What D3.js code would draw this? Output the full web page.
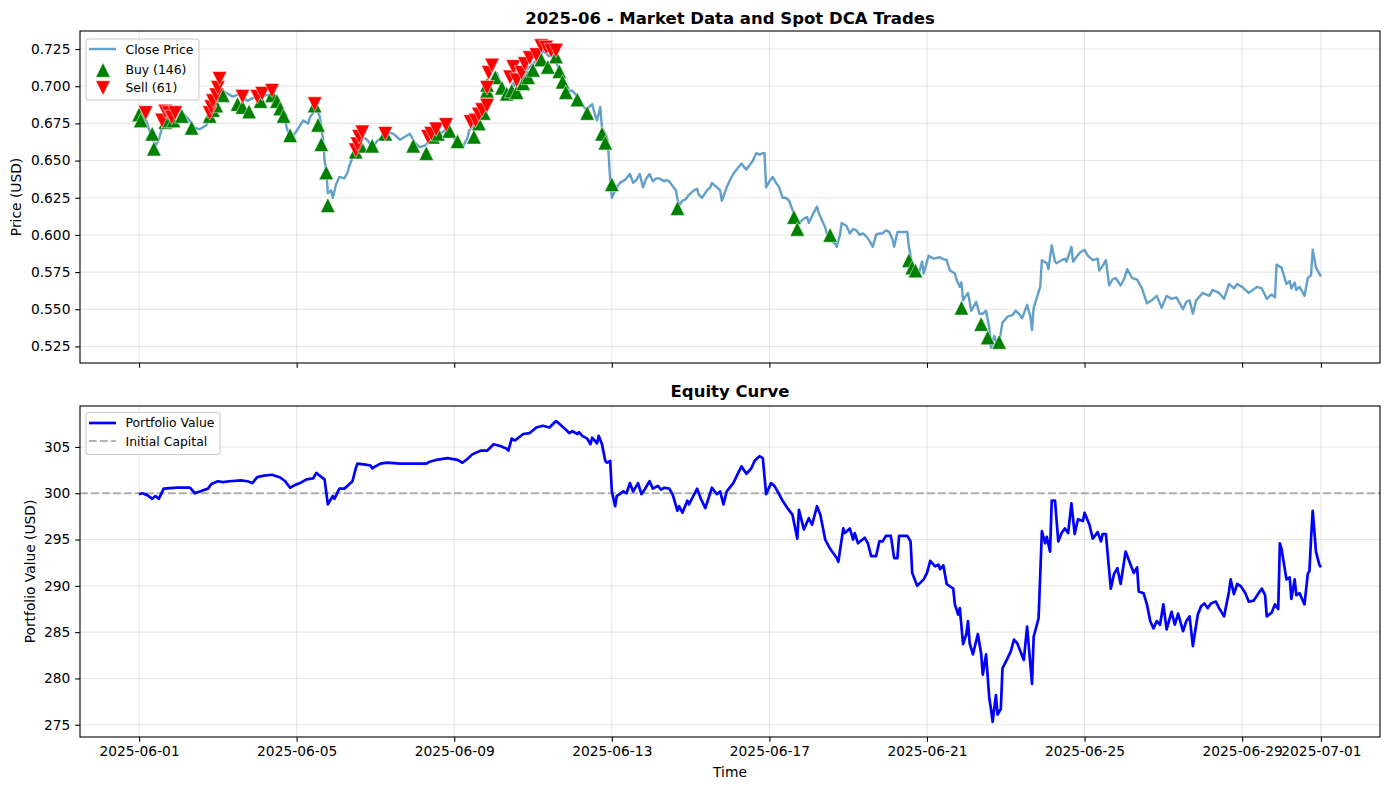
<!DOCTYPE html>
<html><head><meta charset="utf-8">
<script src="https://cdn.jsdelivr.net/npm/d3@7"></script>
<style>body{margin:0;background:#fff} svg{display:block} text{font-family:"DejaVu Sans",sans-serif;fill:#000}</style>
</head><body><svg id="c" width="1389" height="790"></svg>
<script>
// ---------- DATA ----------
const startDate = "2025-06-01T00:00:00";
const endDate = "2025-07-01T00:00:00";
const xTickLabels = ["2025-06-01","2025-06-05","2025-06-09","2025-06-13","2025-06-17","2025-06-21","2025-06-25","2025-06-29","2025-07-01"];
const priceTicks = [0.525,0.550,0.575,0.600,0.625,0.650,0.675,0.700,0.725];
const equityTicks = [275,280,285,290,295,300,305];
const initialCapital = 300;
const topTitle = "2025-06 - Market Data and Spot DCA Trades";
const bottomTitle = "Equity Curve";
const legendTop = ["Close Price","Buy (146)","Sell (61)"];
const legendBottom = ["Portfolio Value","Initial Capital"];

// [hours since start, close price]
const closePrice = [[0,.682],[4,.678],[7,.668],[10,.660],[12,.664],[15,.676],[19,.679],[25,.684],[30,.678],[34,.672],[37,.671],[41,.674],[44,.683],[48,.698],[51,.697],[54,.695],[57,.693],[62,.695],[66,.690],[69,.692],[74,.693],[78,.694],[82,.695],[85,.690],[88,.682],[90,.672],[92,.666],[94,.667],[96,.670],[100,.677],[103,.675],[104,.679],[106,.682],[108,.685],[110,.680],[112,.665],[113,.650],[114,.644],[115,.628],[117,.630],[118,.625],[120,.634],[122,.639],[125,.638],[127,.642],[128,.646],[130,.652],[133,.662],[136,.666],[139,.664],[142,.659],[145,.663],[148,.666],[152,.669],[155,.668],[159,.664],[162,.666],[165,.668],[168,.662],[171,.659],[174,.660],[177,.663],[180,.666],[183,.668],[186,.670],[189,.668],[192,.665],[195,.662],[197,.659],[200,.665],[201,.670],[204,.674],[208,.680],[210,.686],[212,.697],[214,.702],[216,.706],[218,.709],[220,.702],[222,.700],[224,.693],[226,.697],[228,.702],[230,.699],[232,.697],[234,.703],[236,.711],[240,.715],[244,.720],[246,.724],[248,.722],[250,.720],[252,.722],[254,.716],[256,.711],[258,.706],[260,.700],[262,.697],[264,.697],[267,.693],[268,.691],[271,.686],[273,.684],[274,.686],[276,.688],[278,.680],[279,.677],[281,.686],[282,.672],[285,.666],[286,.655],[287,.637],[288,.625],[291,.632],[293,.635],[296,.637],[299,.641],[301,.635],[303,.637],[305,.641],[307,.632],[309,.638],[311,.641],[313,.636],[315,.638],[317,.638],[320,.636],[321,.637],[323,.636],[325,.633],[327,.630],[328,.624],[329,.620],[331,.623],[333,.624],[335,.627],[338,.630],[340,.631],[341,.627],[343,.625],[346,.630],[348,.632],[349,.635],[352,.632],[354,.630],[355,.623],[358,.632],[360,.637],[362,.641],[364,.644],[367,.648],[369,.645],[370,.644],[372,.647],[374,.650],[376,.655],[378,.654],[380,.655],[381,.655],[382,.632],[384,.636],[386,.639],[388,.635],[390,.632],[392,.625],[394,.625],[396,.623],[398,.617],[400,.612],[402,.608],[405,.611],[407,.612],[408,.608],[411,.615],[413,.619],[414,.615],[416,.610],[418,.605],[419,.601],[421,.598],[422,.596],[424,.594],[425,.592],[427,.600],[428,.608],[431,.606],[433,.601],[435,.604],[437,.603],[439,.600],[441,.601],[443,.599],[445,.596],[447,.592],[449,.600],[451,.601],[453,.601],[455,.603],[457,.602],[459,.597],[460,.592],[462,.602],[465,.602],[468,.602],[469,.592],[471,.580],[473,.578],[475,.574],[477,.582],[478,.574],[481,.586],[484,.584],[488,.585],[489,.584],[492,.583],[494,.576],[497,.574],[498,.570],[500,.565],[501,.568],[502,.556],[503,.558],[505,.561],[507,.549],[510,.555],[512,.547],[514,.547],[516,.549],[518,.537],[519,.524],[521,.532],[523,.526],[524,.528],[526,.541],[529,.545],[532,.546],[534,.549],[536,.547],[538,.544],[541,.553],[543,.545],[544,.536],[545,.551],[547,.558],[549,.565],[550,.583],[553,.581],[554,.577],[556,.593],[558,.582],[559,.581],[562,.583],[564,.584],[565,.582],[568,.592],[569,.582],[571,.585],[573,.588],[576,.590],[578,.586],[581,.583],[584,.584],[585,.576],[587,.579],[589,.583],[591,.566],[593,.570],[595,.571],[598,.566],[600,.570],[602,.577],[605,.571],[608,.570],[611,.564],[614,.554],[617,.556],[620,.559],[623,.551],[626,.559],[629,.557],[632,.558],[636,.550],[638,.555],[640,.556],[642,.547],[644,.556],[648,.561],[652,.559],[654,.563],[658,.561],[661,.557],[664,.567],[667,.564],[669,.567],[672,.565],[676,.561],[681,.565],[684,.564],[687,.557],[690,.560],[692,.558],[693,.580],[696,.578],[699,.567],[701,.569],[702,.564],[704,.568],[705,.563],[707,.565],[710,.559],[712,.571],[714,.573],[715,.590],[717,.578],[720,.572]];

// [hours since start, portfolio value]
const portfolioValue = [[0,299.9],[2,300.0],[5,299.8],[8,299.4],[10,299.7],[12,299.4],[15,300.5],[23,300.6],[31,300.6],[34,300.0],[37,300.2],[42,300.5],[44,301.0],[48,301.3],[51,301.2],[55,301.3],[62,301.4],[66,301.3],[69,301.1],[72,301.75],[76,301.9],[81,302.0],[86,301.7],[89,301.3],[92,300.6],[94,300.8],[98,301.1],[102,301.5],[106,301.6],[108,302.2],[110,301.9],[113,301.5],[115,298.8],[118,299.7],[119,299.4],[122,300.5],[125,300.5],[127,300.8],[130,301.3],[132,302.7],[133,303.2],[138,303.1],[141,303.0],[142,302.7],[147,303.2],[151,303.3],[159,303.2],[167,303.2],[175,303.2],[177,303.4],[181,303.6],[188,303.8],[194,303.6],[197,303.3],[200,303.7],[203,304.2],[208,304.6],[212,304.6],[216,305.3],[220,305.1],[224,304.8],[225,304.6],[227,305.9],[229,305.7],[234,306.4],[238,306.5],[242,307.1],[246,307.3],[250,307.1],[254,307.8],[256,307.5],[261,306.7],[262,306.5],[264,306.7],[267,306.4],[268,306.6],[270,306.2],[273,305.9],[275,305.3],[276,306.0],[279,305.4],[280,306.2],[282,305.3],[284,303.5],[285,303.3],[287,303.5],[288,300.2],[290,298.6],[291,299.7],[295,300.2],[297,300.0],[299,301.1],[301,300.2],[304,301.1],[306,299.9],[308,300.4],[311,301.3],[313,300.5],[316,300.8],[318,300.4],[320,300.6],[323,300.5],[325,299.9],[328,298.1],[329,298.6],[331,297.9],[334,299.2],[335,298.8],[340,300.5],[342,299.5],[345,298.4],[349,300.6],[352,299.9],[354,300.2],[356,298.8],[358,300.2],[362,301.1],[365,302.2],[367,302.9],[370,302.1],[373,302.7],[375,303.5],[378,304.0],[380,303.8],[382,299.9],[385,301.1],[387,300.8],[389,300.2],[392,299.2],[395,298.4],[398,297.7],[401,295.1],[402,298.2],[405,296.1],[408,297.3],[410,296.6],[413,298.6],[415,297.7],[418,295.0],[421,294.0],[425,293.0],[426,292.6],[429,296.2],[430,295.7],[433,296.2],[435,295.0],[436,295.7],[438,294.6],[442,295.2],[444,294.6],[446,293.2],[449,293.2],[451,294.8],[453,294.8],[455,295.4],[458,295.4],[460,293.0],[462,293.0],[463,295.4],[468,295.4],[470,294.8],[471,291.4],[474,290.0],[478,290.7],[480,291.4],[482,292.7],[485,292.1],[487,292.3],[488,291.8],[490,292.2],[492,290.2],[496,289.7],[497,288.0],[499,286.9],[500,287.6],[502,283.7],[504,284.8],[505,286.2],[506,283.8],[508,282.6],[511,284.8],[513,282.7],[514,280.4],[516,282.6],[518,277.8],[519,276.7],[520,275.3],[522,278.2],[523,276.1],[525,276.7],[526,281.1],[528,281.8],[531,282.9],[533,284.2],[535,283.8],[539,282.0],[541,285.6],[544,279.4],[545,284.5],[548,286.5],[550,295.9],[552,294.6],[553,295.3],[555,293.7],[556,299.2],[558,299.2],[560,294.8],[562,295.7],[564,296.2],[566,295.7],[568,298.9],[570,295.6],[572,297.2],[575,297.0],[576,297.9],[579,296.6],[581,295.1],[584,295.8],[586,294.8],[587,295.6],[589,295.6],[592,289.7],[594,291.3],[596,291.9],[598,290.2],[601,293.7],[604,292.3],[606,291.4],[608,292.0],[609,289.4],[612,289.2],[614,288.0],[616,286.2],[618,285.4],[620,286.2],[622,285.8],[624,288.0],[626,285.3],[629,287.2],[631,285.8],[633,287.0],[636,285.1],[638,286.2],[640,286.7],[642,283.5],[645,286.9],[647,287.8],[649,288.1],[651,287.6],[653,288.1],[656,288.3],[658,287.6],[661,286.7],[664,289.4],[665,290.7],[667,289.1],[669,290.2],[671,290.0],[674,289.2],[676,288.3],[679,288.4],[682,289.2],[684,289.7],[686,289.0],[687,286.7],[690,287.1],[692,288.0],[694,287.5],[695,294.6],[696,294.0],[699,290.7],[701,290.9],[702,288.6],[704,290.7],[705,289.0],[707,289.2],[710,288.0],[712,291.3],[713,291.6],[714,295.1],[715,298.1],[717,293.7],[719,292.3],[720,292.0]];

// [hours since start, trade price]
const buyTrades = [[0,.681],[1,.677],[8,.668],[9,.658],[16,.676],[18,.677],[21,.677],[26,.680],[32,.672],[43,.680],[45,.684],[47,.687],[51,.694],[60,.688],[63,.686],[67,.683],[74,.690],[81,.694],[84,.690],[86,.685],[88,.680],[92,.667],[107,.687],[109,.674],[111,.661],[114,.642],[115,.620],[132,.656],[135,.660],[142,.660],[150,.668],[167,.660],[175,.655],[179,.666],[182,.668],[189,.670],[194,.663],[204,.666],[207,.675],[210,.682],[212,.697],[212,.701],[217,.706],[221,.699],[224,.695],[227,.697],[230,.696],[234,.702],[237,.706],[240,.711],[245,.718],[249,.713],[254,.720],[256,.710],[258,.703],[260,.696],[267,.691],[273,.682],[282,.668],[284,.662],[288,.634],[328,.618],[399,.612],[401,.604],[421,.600],[469,.583],[471,.578],[473,.576],[501,.551],[513,.540],[517,.531],[524,.528]];
const sellTrades = [[4,.682],[14,.677],[16,.683],[18,.682],[20,.679],[22,.682],[43,.682],[44,.686],[45,.690],[47,.694],[48,.699],[49,.705],[63,.693],[72,.693],[75,.695],[81,.697],[107,.688],[132,.657],[133,.661],[134,.666],[136,.669],[150,.668],[176,.666],[178,.668],[181,.671],[187,.674],[202,.676],[205,.677],[207,.681],[209,.684],[212,.687],[212,.699],[213,.709],[215,.714],[226,.706],[228,.713],[230,.704],[233,.709],[235,.715],[238,.719],[242,.721],[245,.727],[248,.726],[251,.724],[254,.724]];

// ---------- RENDER ----------
const svg = d3.select("#c");
const L = 80, R = 1380;
const top1 = {t:31, b:363}, top2 = {t:406, b:737};
const t0 = new Date(startDate), t1 = new Date(endDate);
const toDate = h => d3.timeHour.offset(t0, h);
const span = t1 - t0;
const x = d3.scaleTime().domain([new Date(+t0 - span*0.05), new Date(+t1 + span*0.05)]).range([L, R]);

function padExtent(vals){const e=d3.extent(vals);const p=(e[1]-e[0])*0.05;return [e[0]-p,e[1]+p];}
const yP = d3.scaleLinear().domain(padExtent([...closePrice,...buyTrades,...sellTrades].map(d=>d[1]))).range([top1.b, top1.t]);
const yE = d3.scaleLinear().domain(padExtent(portfolioValue.map(d=>d[1]))).range([top2.b, top2.t]);
const xTicks = xTickLabels.map(s => new Date(s + "T00:00:00"));

const FS = 13.8, LFS = 12.4;
function grid(g, y, ticks, box){
  g.append("g").selectAll("line").data(xTicks).join("line")
    .attr("x1", d=>x(d)).attr("x2", d=>x(d)).attr("y1", box.t).attr("y2", box.b)
    .attr("stroke","#b0b0b0").attr("stroke-opacity",0.3).attr("stroke-width",1.1);
  g.append("g").selectAll("line").data(ticks).join("line")
    .attr("x1", L).attr("x2", R).attr("y1", d=>y(d)).attr("y2", d=>y(d))
    .attr("stroke","#b0b0b0").attr("stroke-opacity",0.3).attr("stroke-width",1.1);
}
function frame(g, y, ticks, box, fmt, showX){
  const ax = d3.axisLeft(y).tickValues(ticks).tickFormat(fmt).tickSize(4.8).tickPadding(4.8);
  const ga = g.append("g").attr("transform",`translate(${L},0)`).call(ax);
  ga.select(".domain").remove();
  ga.selectAll("line").attr("stroke","#000").attr("stroke-width",1.1);
  ga.selectAll("text").attr("font-size",FS).attr("font-family","DejaVu Sans").attr("fill","#000");
  const bx = d3.axisBottom(x).tickValues(xTicks).tickFormat(showX ? d3.timeFormat("%Y-%m-%d") : "").tickSize(4.8).tickPadding(4.8);
  const gb = g.append("g").attr("transform",`translate(0,${box.b})`).call(bx);
  gb.select(".domain").remove();
  gb.selectAll("line").attr("stroke","#000").attr("stroke-width",1.1);
  gb.selectAll("text").attr("font-size",FS).attr("font-family","DejaVu Sans").attr("fill","#000");
  g.append("rect").attr("x",L).attr("y",box.t).attr("width",R-L).attr("height",box.b-box.t)
    .attr("fill","none").attr("stroke","#000").attr("stroke-width",1.1);
}
const triUp = s => `M0,${-s/2}L${s/2},${s/2}L${-s/2},${s/2}Z`;
const triDown = s => `M0,${s/2}L${s/2},${-s/2}L${-s/2},${-s/2}Z`;
const MS = 14.5;
const priceColor = "rgba(31,119,180,0.7)";

// ---- top panel
const g1 = svg.append("g");
grid(g1, yP, priceTicks, top1);
g1.append("path").datum(closePrice)
  .attr("d", d3.line().x(d=>x(toDate(d[0]))).y(d=>yP(d[1])))
  .attr("fill","none").attr("stroke",priceColor).attr("stroke-width",2.4).attr("stroke-linejoin","round");
g1.append("g").selectAll("path").data(buyTrades).join("path")
  .attr("d", triUp(MS)).attr("transform", d=>`translate(${x(toDate(d[0]))},${yP(d[1])})`)
  .attr("fill","#008000").attr("stroke","#ffffff").attr("stroke-width",0.5);
g1.append("g").selectAll("path").data(sellTrades).join("path")
  .attr("d", triDown(MS)).attr("transform", d=>`translate(${x(toDate(d[0]))},${yP(d[1])})`)
  .attr("fill","#ff0000").attr("stroke","#ffffff").attr("stroke-width",0.5);
frame(g1, yP, priceTicks, top1, d3.format(".3f"), false);
g1.append("text").attr("x",(L+R)/2).attr("y",24).attr("text-anchor","middle")
  .attr("font-size",16.5).attr("font-weight","bold").text(topTitle);
g1.append("text").attr("transform",`translate(16,${(top1.t+top1.b)/2}) rotate(-90)`)
  .attr("text-anchor","middle").attr("dominant-baseline","central").attr("font-size",FS).text("Price (USD)");

// legend top
const lg1 = svg.append("g");
lg1.append("rect").attr("x",86).attr("y",39).attr("width",113).attr("height",61).attr("rx",2.8)
  .attr("fill","#fff").attr("fill-opacity",0.8).attr("stroke","#cccccc").attr("stroke-width",1.1);
lg1.append("line").attr("x1",89).attr("x2",116).attr("y1",49).attr("y2",49).attr("stroke",priceColor).attr("stroke-width",2.4);
lg1.append("path").attr("d",triUp(MS)).attr("transform","translate(103,70)").attr("fill","#008000").attr("stroke","#fff").attr("stroke-width",0.5);
lg1.append("path").attr("d",triDown(MS)).attr("transform","translate(103,88)").attr("fill","#ff0000").attr("stroke","#fff").attr("stroke-width",0.5);
[49.5,69,87.5].forEach((yy,i)=>lg1.append("text").attr("x",125.5).attr("y",yy).attr("dominant-baseline","central").attr("font-size",LFS).text(legendTop[i]));

// ---- bottom panel
const g2 = svg.append("g");
grid(g2, yE, equityTicks, top2);
g2.append("line").attr("x1",L).attr("x2",R).attr("y1",yE(initialCapital)).attr("y2",yE(initialCapital))
  .attr("stroke","#808080").attr("stroke-opacity",0.6).attr("stroke-width",2.07).attr("stroke-dasharray","7.7,3.3");
g2.append("path").datum(portfolioValue)
  .attr("d", d3.line().x(d=>x(toDate(d[0]))).y(d=>yE(d[1])))
  .attr("fill","none").attr("stroke","#0000ff").attr("stroke-width",2.7).attr("stroke-linejoin","round");
frame(g2, yE, equityTicks, top2, d3.format("d"), true);
g2.append("text").attr("x",(L+R)/2).attr("y",397).attr("text-anchor","middle")
  .attr("font-size",16.5).attr("font-weight","bold").text(bottomTitle);
g2.append("text").attr("transform",`translate(30,${(top2.t+top2.b)/2}) rotate(-90)`)
  .attr("text-anchor","middle").attr("dominant-baseline","central").attr("font-size",FS).text("Portfolio Value (USD)");
g2.append("text").attr("x",(L+R)/2).attr("y",772).attr("text-anchor","middle").attr("dominant-baseline","central")
  .attr("font-size",FS).text("Time");

const lg2 = svg.append("g");
lg2.append("rect").attr("x",86).attr("y",412.5).attr("width",134).attr("height",42).attr("rx",2.8)
  .attr("fill","#fff").attr("fill-opacity",0.8).attr("stroke","#cccccc").attr("stroke-width",1.1);
lg2.append("line").attr("x1",89).attr("x2",116).attr("y1",423).attr("y2",423).attr("stroke","#0000ff").attr("stroke-width",2.7);
lg2.append("line").attr("x1",89).attr("x2",116).attr("y1",441).attr("y2",441).attr("stroke","#808080").attr("stroke-opacity",0.6).attr("stroke-width",2.07).attr("stroke-dasharray","7.7,3.3");
[422,441].forEach((yy,i)=>lg2.append("text").attr("x",125.5).attr("y",yy).attr("dominant-baseline","central").attr("font-size",LFS).text(legendBottom[i]));
</script></body></html>
